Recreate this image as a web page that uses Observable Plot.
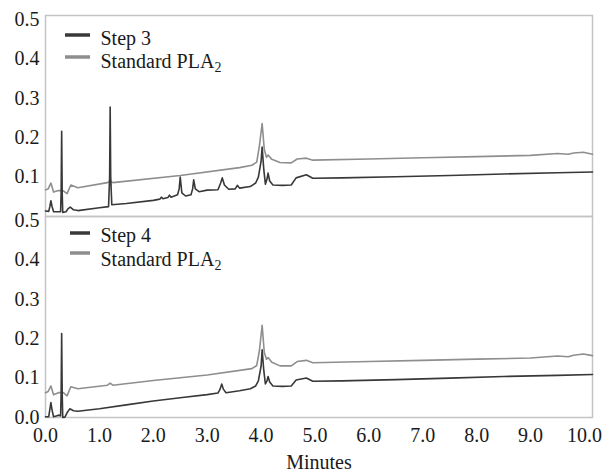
<!DOCTYPE html>
<html><head><meta charset="utf-8">
<script src="https://cdn.jsdelivr.net/npm/d3@7"></script>
<script src="https://cdn.jsdelivr.net/npm/@observablehq/plot@0.6"></script>
<style>body{margin:0;background:#fff;}</style></head><body><div id="chart"></div>
<script>
// ---- Data ----
const panels = ["top", "bottom"];
const xTicks = [0,1,2,3,4,5,6,7,8,9,10];
const yTicksTop = [0.1,0.2,0.3,0.4,0.5];
const yTicksBottom = [0,0.1,0.2,0.3,0.4,0.5];
const legendTop = ["Step 3", "Standard PLA"];
const legendBottom = ["Step 4", "Standard PLA"];
const legendSub = "2";
const xLabel = "Minutes";

// Top panel: Standard PLA2
const std3T = [0,0.05,0.1,0.15,0.24,0.33,0.4,0.47,0.6,1.15,1.2,1.25,2.5,3.6,3.83,3.92,3.97,4.02,4.06,4.1,4.13,4.2,4.35,4.56,4.67,4.84,4.96,6,7,8,9,9.5,9.7,9.8,9.98,10.15];
const std3V = [0.068,0.07,0.085,0.062,0.066,0.065,0.058,0.08,0.073,0.086,0.09,0.086,0.104,0.124,0.13,0.138,0.18,0.236,0.17,0.15,0.156,0.145,0.137,0.136,0.146,0.148,0.143,0.146,0.149,0.152,0.155,0.16,0.158,0.161,0.163,0.158];
// Top panel: Step 3
const step3T = [0,0.06,0.08,0.1,0.12,0.15,0.28,0.29,0.3,0.31,0.32,0.38,0.42,0.46,0.52,0.6,1.0,1.17,1.19,1.2,1.21,1.23,1.5,2.0,2.12,2.15,2.18,2.27,2.3,2.33,2.45,2.48,2.5,2.53,2.6,2.7,2.73,2.75,2.78,2.85,3.0,3.2,3.25,3.28,3.32,3.4,3.52,3.56,3.6,3.8,3.9,3.95,4.0,4.02,4.05,4.08,4.11,4.13,4.16,4.22,4.4,4.56,4.65,4.84,4.96,5.5,6.5,7.5,8.5,9.5,10.15];
const step3V = [0.014,0.013,0.025,0.04,0.026,0.012,0.012,0.06,0.216,0.06,0.01,0.012,0.02,0.024,0.017,0.015,0.022,0.025,0.1,0.278,0.1,0.03,0.033,0.041,0.044,0.049,0.045,0.048,0.054,0.049,0.055,0.07,0.1,0.06,0.052,0.055,0.07,0.093,0.07,0.063,0.067,0.068,0.085,0.098,0.08,0.069,0.07,0.079,0.072,0.076,0.085,0.1,0.14,0.176,0.12,0.082,0.095,0.11,0.09,0.08,0.079,0.08,0.098,0.106,0.097,0.098,0.101,0.104,0.108,0.111,0.113];
// Bottom panel: Standard PLA2
const std4T = [0,0.05,0.1,0.15,0.24,0.33,0.4,0.47,0.6,1.15,1.2,1.25,2.0,3.0,3.83,3.92,3.97,4.02,4.06,4.1,4.13,4.2,4.35,4.56,4.67,4.84,4.96,6,7,8,9,9.5,9.7,9.8,9.98,10.15];
const std4V = [0.063,0.066,0.08,0.058,0.063,0.063,0.055,0.078,0.073,0.082,0.087,0.082,0.094,0.108,0.124,0.132,0.17,0.234,0.165,0.148,0.152,0.14,0.131,0.131,0.142,0.145,0.139,0.142,0.145,0.148,0.151,0.156,0.154,0.158,0.161,0.157];
// Bottom panel: Step 4
const step4T = [0,0.06,0.08,0.1,0.12,0.15,0.2,0.25,0.28,0.29,0.3,0.31,0.32,0.36,0.4,0.45,0.52,0.6,1.0,1.5,2.0,2.5,3.0,3.2,3.24,3.27,3.3,3.35,3.6,3.8,3.9,3.95,4.0,4.02,4.05,4.08,4.11,4.13,4.16,4.22,4.4,4.56,4.65,4.84,4.96,5.5,6.5,7.5,8.5,9.5,10.15];
const step4V = [0.002,0.002,0.02,0.038,0.02,0.002,0.004,0.006,0.004,0.06,0.213,0.06,0.0,0.001,0.012,0.022,0.017,0.016,0.022,0.032,0.042,0.05,0.058,0.062,0.072,0.085,0.072,0.063,0.068,0.073,0.08,0.093,0.13,0.172,0.12,0.085,0.093,0.104,0.09,0.08,0.079,0.08,0.095,0.1,0.092,0.093,0.096,0.1,0.104,0.107,0.109];

// ---- Styles ----
const dark = "#383838", light = "#8e8e8e", frameCol = "#c4c4c4", ink = "#1a1a1a";
const ff = "Liberation Serif";
const fmt = d3.format(".1f");
const rows = (T, V, panel) => T.map((t, i) => ({t, v: V[i], panel}));
const yTickRows = [...yTicksTop.map(v => ({v, panel: "top"})), ...yTicksBottom.map(v => ({v, panel: "bottom"}))];
const txt = {fontFamily: ff, fontSize: 20, fill: ink};
const onPanel = p => () => p;
const leg = {frameAnchor: "top-left", lineAnchor: "top", textAnchor: "start", text: d => d, ...txt};

const chart = Plot.plot({
  width: 612, height: 472,
  marginLeft: 45, marginRight: 20, marginTop: 15, marginBottom: 55,
  style: {background: "white"},
  x: {domain: [0, 10.15], axis: null},
  y: {domain: [0, 0.51], axis: null},
  fy: {domain: panels, axis: null, padding: 0},
  marks: [
    Plot.frame({stroke: frameCol, strokeWidth: 1.5}),
    // y tick labels
    Plot.text(yTickRows, {y: "v", fy: "panel", text: d => fmt(d.v), frameAnchor: "left", lineAnchor: "middle", dx: -6, textAnchor: "end", ...txt}),
    // x tick labels & title (bottom panel only)
    Plot.text(xTicks, {x: d => d, fy: onPanel("bottom"), text: d => fmt(d), frameAnchor: "bottom", lineAnchor: "middle", dy: 18, ...txt}),
    Plot.text([xLabel], {fy: onPanel("bottom"), text: d => d, frameAnchor: "bottom", lineAnchor: "middle", dy: 45, ...txt}),
    // series
    Plot.line(rows(std3T, std3V, "top"), {x: "t", y: "v", fy: "panel", stroke: light, strokeWidth: 1.6}),
    Plot.line(rows(step3T, step3V, "top"), {x: "t", y: "v", fy: "panel", stroke: dark, strokeWidth: 1.6}),
    Plot.line(rows(std4T, std4V, "bottom"), {x: "t", y: "v", fy: "panel", stroke: light, strokeWidth: 1.6}),
    Plot.line(rows(step4T, step4V, "bottom"), {x: "t", y: "v", fy: "panel", stroke: dark, strokeWidth: 1.6}),
    // legends
    Plot.text([legendTop[0]], {fy: onPanel("top"), dx: 55, dy: 15, ...leg}),
    Plot.text([legendTop[1]], {fy: onPanel("top"), dx: 55, dy: 38, ...leg}),
    Plot.text([legendSub], {fy: onPanel("top"), dx: 169, dy: 47, ...leg, fontSize: 14}),
    Plot.text([legendBottom[0]], {fy: onPanel("bottom"), dx: 55, dy: 11, ...leg}),
    Plot.text([legendBottom[1]], {fy: onPanel("bottom"), dx: 55, dy: 35, ...leg}),
    Plot.text([legendSub], {fy: onPanel("bottom"), dx: 169, dy: 44, ...leg, fontSize: 14})
  ]
});

// legend swatches
const sw = d3.select(chart).append("g");
[[65, 90, 35, dark], [65, 90, 57, light], [70, 90, 233, dark], [70, 90, 253, light]].forEach(([a, b, y, c]) => {
  sw.append("line").attr("x1", a).attr("x2", b).attr("y1", y).attr("y2", y)
    .attr("stroke", c).attr("stroke-width", 3.5);
});

document.getElementById("chart").append(chart);
</script></body></html>
